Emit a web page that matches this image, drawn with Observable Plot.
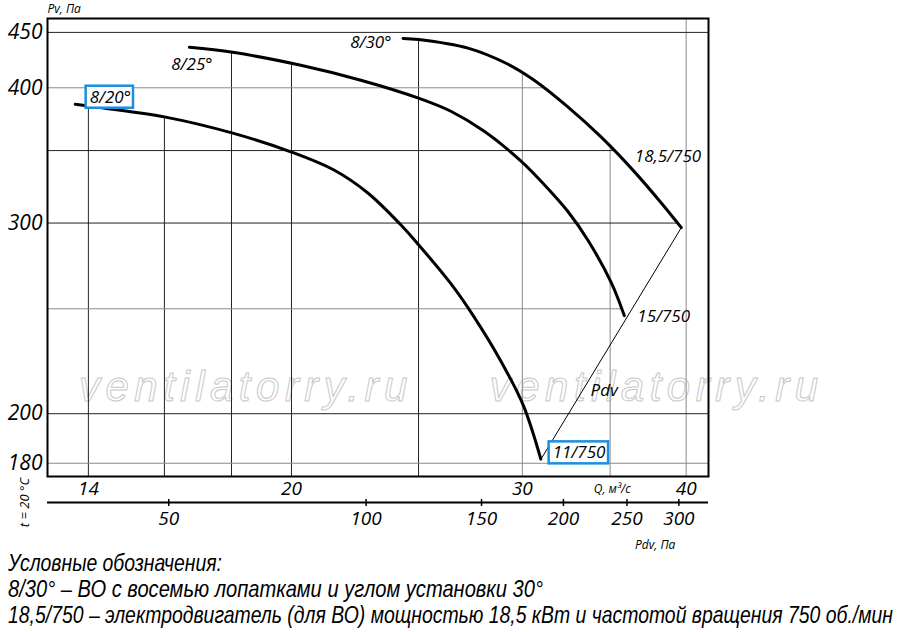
<!DOCTYPE html>
<html>
<head>
<meta charset="utf-8">
<script src="https://cdn.jsdelivr.net/npm/d3@7"></script>
<script src="https://cdn.jsdelivr.net/npm/@observablehq/plot@0.6"></script>
<style>
  body { margin: 0; background: white; }
  #legend { font-family: "Liberation Sans", "Arimo", sans-serif; font-style: italic;
    font-size: 24px; line-height: 26px; padding-left: 8px; color: #000; white-space: nowrap; }
  #legend span { display: inline-block; transform-origin: 0 50%; }
</style>
</head>
<body>
<div id="chart"></div>
<div id="legend">
  <div><span>Условные обозначения:</span></div>
  <div><span>8/30° – ВО с восемью лопатками и углом установки 30°</span></div>
  <div><span>18,5/750 – электродвигатель (для ВО) мощностью 18,5 кВт и частотой вращения 750 об./мин</span></div>
</div>
<script>
// ---- data (Q in m³/s, Pv in Pa) ----
const curve20Q  = [13.68, 14.0, 16.03, 18.04, 20.0, 21.55, 22.87, 24.23, 25.0, 26.46, 27.55, 28.90, 30.05, 30.99];
const curve20Pv = [386.3, 384.7, 375.8, 363.2, 348.9, 335.8, 319.8, 298.9, 286.5, 263.7, 245.9, 223.5, 203.6, 181.6];
const curve25Q  = [16.72, 18.04, 20.33, 22.59, 25.0, 26.46, 28.04, 29.93, 30.99, 32.51, 33.68, 35.07, 35.88];
const curve25Pv = [435.9, 431.3, 419.6, 406.5, 391.3, 380.5, 364.8, 342.3, 328.1, 307.3, 288.9, 264.3, 246.4];
const curve30Q  = [24.33, 25.0, 27.27, 29.26, 30.63, 32.51, 34.46, 36.53, 38.29, 39.66];
const curve30Pv = [444.3, 443.3, 435.2, 420.5, 406.5, 383.9, 360.1, 334.5, 313.1, 297.1];
const pdvLineQ  = [31.0, 39.66];
const pdvLinePv = [181.6, 297.1];

const qTicks   = [14, 20, 30, 40];
const qGrid    = [14, 16, 18, 20, 25, 30, 35, 40];
const pvTicks  = [180, 200, 300, 400, 450];
const pvGrid   = [180, 200, 250, 300, 350, 400, 450];
const pdvTicks = [50, 100, 150, 200, 250, 300];

const labels = [
  {text: "8/20°",    q: 14.55, pv: 392},
  {text: "8/25°",    q: 16.79, pv: 420.5},
  {text: "8/30°",    q: 22.99, pv: 440.7},
  {text: "18,5/750", q: 38.74, pv: 345.9},
  {text: "15/750",   q: 38.45, pv: 245.9},
  {text: "11/750",   q: 33.14, pv: 184.0},
  {text: "Pdv",      q: 34.64, pv: 210.3}
];
const watermarks = [
  {text: "ventilatorry.ru", q: 18.46, pv: 211.6},
  {text: "ventilatorry.ru", q: 37.98, pv: 211.6}
];
const legendWidths = [214, 535, 885];

// ---- helpers ----
const xDomain = [13.03, 41.6];
const yDomain = [175, 463.5];
const kPdv = 2.28; // Q = k * sqrt(Pdv)
const toQ = p => kPdv * Math.sqrt(p);

const curves = [
  {q: curve20Q, p: curve20Pv},
  {q: curve25Q, p: curve25Pv},
  {q: curve30Q, p: curve30Pv}
];
function interp(qs, ps, q) {
  if (q < qs[0] || q > qs[qs.length - 1]) return null;
  for (let i = 0; i < qs.length - 1; i++) {
    if (q >= qs[i] && q <= qs[i + 1]) {
      const t = (Math.log(q) - Math.log(qs[i])) / (Math.log(qs[i + 1]) - Math.log(qs[i]));
      return Math.exp(Math.log(ps[i]) + t * (Math.log(ps[i + 1]) - Math.log(ps[i])));
    }
  }
  return null;
}
function topAt(q) {
  let best = null;
  for (const c of curves) { const v = interp(c.q, c.p, q); if (v != null && (best == null || v > best)) best = v; }
  return best == null ? yDomain[1] : best;
}
function rightAt(level) {
  let best = null;
  for (const c of curves.slice(1)) {
    for (let i = c.q.length - 2; i >= 0; i--) {
      if (c.p[i] >= level && c.p[i + 1] < level) {
        const t = (Math.log(level) - Math.log(c.p[i])) / (Math.log(c.p[i + 1]) - Math.log(c.p[i]));
        const q = Math.exp(Math.log(c.q[i]) + t * (Math.log(c.q[i + 1]) - Math.log(c.q[i])));
        if (best == null || q > best) best = q;
        break;
      }
    }
  }
  return best == null ? xDomain[1] : best;
}
const toRows = (qs, ps) => qs.map((q, i) => ({q, pv: ps[i]}));
const italic = "'Open Sans', 'Noto Sans', sans-serif";

const chart = Plot.plot({
  width: 900, height: 550,
  marginTop: 18, marginLeft: 47, marginRight: 192, marginBottom: 74,
  x: {type: "log", domain: xDomain},
  y: {type: "log", domain: yDomain},
  style: {fontFamily: italic, fontStyle: "italic", background: "white", color: "black", overflow: "visible"},
  marks: [
    // watermark
    Plot.text(watermarks, {x: "q", y: "pv", text: "text", fontSize: 42, fill: "none", stroke: "#c8c8c8",
      strokeWidth: 1, fontFamily: "'Liberation Sans', sans-serif"}),
    // grid
    Plot.ruleX(qGrid, {x: d => d, y1: yDomain[0], y2: d => topAt(d),
      stroke: d => d >= 30 ? "#8a8a8a" : "#222", strokeWidth: 1}),
    Plot.ruleY(pvGrid, {y: d => d, x1: xDomain[0], x2: d => rightAt(d),
      stroke: d => (d === 400 || d === 250 || d === 180) ? "#8a8a8a" : "#222", strokeWidth: 1}),
    // Pdv line
    Plot.line(toRows(pdvLineQ, pdvLinePv), {x: "q", y: "pv", stroke: "black", strokeWidth: 1}),
    // curves
    Plot.line(toRows(curve20Q, curve20Pv), {x: "q", y: "pv", stroke: "black", strokeWidth: 3, curve: "catmull-rom"}),
    Plot.line(toRows(curve25Q, curve25Pv), {x: "q", y: "pv", stroke: "black", strokeWidth: 3, curve: "catmull-rom"}),
    Plot.line(toRows(curve30Q, curve30Pv), {x: "q", y: "pv", stroke: "black", strokeWidth: 3, curve: "catmull-rom"}),
    // frame
    Plot.frame({stroke: "black", strokeWidth: 2}),
    // axes
    Plot.axisY({ticks: pvTicks, tickSize: 0, tickPadding: 5, fontSize: 21, tickFormat: d => String(d), label: null}),
    Plot.axisX({ticks: qTicks, tickSize: 0, tickPadding: 5, fontSize: 19, tickFormat: d => String(d), label: null}),
    Plot.ruleY([yDomain[0]], {dy: 26, stroke: "black", strokeWidth: 2}),
    Plot.axisX({ticks: pdvTicks.map(toQ), tickFormat: q => String(Math.round((q / kPdv) ** 2)),
      tickSize: 7, dy: 23, tickPadding: 5, fontSize: 19, label: null, strokeWidth: 1.5}),
    // axis titles
    Plot.text(["Pv, Па"], {text: d => d, frameAnchor: "top-left", dy: -9, textAnchor: "start", lineAnchor: "middle", fontSize: 12}),
    Plot.text(["Q, м³/с"], {text: d => d, x: 35.13, frameAnchor: "bottom", dy: 13, lineAnchor: "middle", fontSize: 12}),
    Plot.text(["Pdv, Па"], {text: d => d, x: 37.88, frameAnchor: "bottom", dy: 69, lineAnchor: "middle", fontSize: 12}),
    Plot.text(["t = 20 °C"], {text: d => d, frameAnchor: "bottom-left", dx: -23, dy: 26, rotate: -90,
      textAnchor: "middle", lineAnchor: "middle", fontSize: 13}),
    // curve labels
    Plot.text(labels, {x: "q", y: "pv", text: "text", fontSize: 17})
  ]
});
document.getElementById("chart").appendChild(chart);

// boxes around highlighted labels
d3.select(chart).selectAll("text").filter(function() {
  return this.textContent === "8/20°" || this.textContent === "11/750";
}).each(function() {
  const b = this.getBBox();
  d3.select(this.parentNode).insert("rect", () => this)
    .attr("x", b.x - 4).attr("y", b.y + 1).attr("width", b.width + 6).attr("height", b.height - 1)
    .attr("fill", "white").attr("stroke", "#1a8ee0").attr("stroke-width", 2.5)
    .attr("transform", this.getAttribute("transform"));
});
d3.select(chart).selectAll("text").filter(function() { return this.textContent === "ventilatorry.ru"; })
  .style("letter-spacing", "5.5px");

// fit legend lines to the reference widths
document.querySelectorAll("#legend span").forEach((s, i) => {
  const w = s.getBoundingClientRect().width;
  s.style.transform = `scaleX(${legendWidths[i] / w})`;
});
</script>
</body>
</html>
